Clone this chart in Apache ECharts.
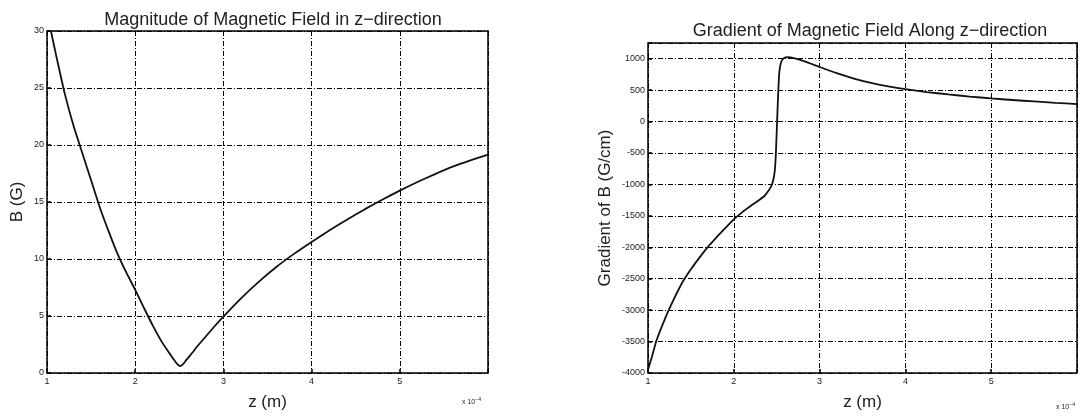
<!DOCTYPE html>
<html>
<head>
<meta charset="utf-8">
<script src="https://cdn.jsdelivr.net/npm/echarts@6/dist/echarts.min.js"></script>
<style>html,body{margin:0;padding:0;background:#fff;}#c{width:1080px;height:416px;}</style>
</head>
<body>
<div id="c"></div>
<script>
// Left chart: magnitude of B (G) vs z (x 10^-4 m)
const zLeft = [1.00, 1.10, 1.20, 1.30, 1.40, 1.50, 1.60, 1.70, 1.80, 1.90, 2.00, 2.10, 2.20, 2.30, 2.40, 2.45, 2.48, 2.51, 2.54, 2.58, 2.65, 2.70, 2.80, 2.90, 3.00, 3.20, 3.40, 3.60, 3.80, 4.00, 4.20, 4.40, 4.60, 4.80, 5.00, 5.20, 5.40, 5.60, 5.80, 6.00];
const bLeft = [31.6, 28.0, 24.55, 21.7, 19.3, 16.9, 14.5, 12.4, 10.45, 8.8, 7.3, 5.7, 4.15, 2.75, 1.6, 1.05, 0.75, 0.6, 0.75, 1.15, 1.8, 2.3, 3.2, 4.1, 4.95, 6.55, 8.0, 9.3, 10.45, 11.5, 12.5, 13.45, 14.35, 15.2, 16.0, 16.75, 17.45, 18.1, 18.65, 19.15];

// Right chart: gradient of B (G/cm) vs z (x 10^-4 m)
const zRight = [1.00, 1.05, 1.10, 1.20, 1.30, 1.40, 1.50, 1.60, 1.70, 1.80, 1.90, 2.00, 2.10, 2.20, 2.30, 2.36, 2.40, 2.44, 2.46, 2.47, 2.48, 2.49, 2.50, 2.51, 2.52, 2.53, 2.55, 2.58, 2.63, 2.70, 2.80, 2.90, 3.00, 3.20, 3.40, 3.60, 3.80, 4.00, 4.25, 4.50, 4.75, 5.00, 5.25, 5.50, 5.75, 6.00];
const gRight = [-3950, -3720, -3480, -3130, -2830, -2560, -2350, -2165, -1990, -1840, -1695, -1555, -1440, -1340, -1245, -1180, -1110, -1020, -930, -860, -750, -520, -170, 200, 530, 780, 940, 1005, 1025, 1010, 970, 920, 868, 770, 685, 615, 560, 515, 470, 432, 398, 368, 343, 320, 298, 278];

const leftYTicks = [0, 5, 10, 15, 20, 25, 30];
const rightYTicks = [-4000, -3500, -3000, -2500, -2000, -1500, -1000, -500, 0, 500, 1000];
const xTicks = [1, 2, 3, 4, 5];

const titles = ['Magnitude of Magnetic Field in z\u2212direction', 'Gradient of Magnetic Field Along z\u2212direction'];
const yNames = ['B (G)', 'Gradient of B (G/cm)'];
const xName = 'z (m)';

const FONT = 'Liberation Sans, Arial, Helvetica, sans-serif';
const TXT = '#222';
const gridLine = {show: true, lineStyle: {color: '#000', width: 1, type: [5, 2, 1, 2]}};

function xAxisCfg(idx) {
  return {
    type: 'value', gridIndex: idx, min: 1, max: 6, interval: 1,
    name: xName, nameLocation: 'middle', nameGap: 21,
    nameTextStyle: {fontFamily: FONT, fontSize: 17, color: TXT},
    axisLine: {show: false, onZero: false},
    axisTick: {show: true, inside: true, length: 4, lineStyle: {color: '#000', width: 1.5}},
    axisLabel: {fontFamily: FONT, fontSize: 9, color: TXT, margin: 4,
      formatter: v => xTicks.indexOf(v) >= 0 ? String(v) : ''},
    splitLine: gridLine
  };
}
function yAxisCfg(idx, min, max, interval, ticks, nameGap) {
  return {
    type: 'value', gridIndex: idx, min: min, max: max, interval: interval,
    name: yNames[idx], nameLocation: 'middle', nameGap: nameGap,
    nameTextStyle: {fontFamily: FONT, fontSize: 17, color: TXT},
    axisLine: {show: false, onZero: false},
    axisTick: {show: true, inside: true, length: 4, lineStyle: {color: '#000', width: 1.5}},
    axisLabel: {fontFamily: FONT, fontSize: 9, color: TXT, margin: 3,
      formatter: v => ticks.indexOf(v) >= 0 ? String(v) : ''},
    splitLine: gridLine
  };
}

const chart = echarts.init(document.getElementById('c'), null, {renderer: 'canvas'});
chart.setOption({
  backgroundColor: '#fff',
  animation: false,
  title: [
    {text: titles[0], left: 268, top: 6, textAlign: 'center',
      textStyle: {fontFamily: FONT, fontSize: 18, fontWeight: 'normal', color: TXT}},
    {text: titles[1], left: 865, top: 17, textAlign: 'center',
      textStyle: {fontFamily: FONT, fontSize: 18, fontWeight: 'normal', color: TXT}}
  ],
  grid: [
    {left: 47, top: 31, width: 441, height: 348, show: true, borderColor: '#000', borderWidth: 1.5, backgroundColor: 'transparent'},
    {left: 648, top: 43, width: 434, height: 341, show: true, borderColor: '#000', borderWidth: 1.5, backgroundColor: 'transparent'}
  ],
  xAxis: [xAxisCfg(0), xAxisCfg(1)],
  yAxis: [
    yAxisCfg(0, 0, 30, 5, leftYTicks, 21),
    yAxisCfg(1, -4000, 1250, 500, rightYTicks, 34)
  ],
  graphic: [
    {type: 'text', left: 462, top: 397, style: {
      text: '{a|x 10}{b|\u22124}', rich: {a: {fontFamily: FONT, fontSize: 7, fill: TXT}, b: {fontFamily: FONT, fontSize: 5, fill: TXT, verticalAlign: 'top', padding: [0, 0, 5, 0]}}}},
    {type: 'text', left: 1056, top: 402, style: {
      text: '{a|x 10}{b|\u22124}', rich: {a: {fontFamily: FONT, fontSize: 7, fill: TXT}, b: {fontFamily: FONT, fontSize: 5, fill: TXT, verticalAlign: 'top', padding: [0, 0, 5, 0]}}}}
  ],
  series: [
    {type: 'line', xAxisIndex: 0, yAxisIndex: 0, showSymbol: false, smooth: 0.2, clip: true,
      lineStyle: {color: '#111', width: 1.8},
      data: zLeft.map((z, i) => [z, bLeft[i]])},
    {type: 'line', xAxisIndex: 1, yAxisIndex: 1, showSymbol: false, smooth: 0.2, clip: true,
      lineStyle: {color: '#111', width: 1.8},
      data: zRight.map((z, i) => [z, gRight[i]])}
  ]
});
</script>
</body>
</html>
